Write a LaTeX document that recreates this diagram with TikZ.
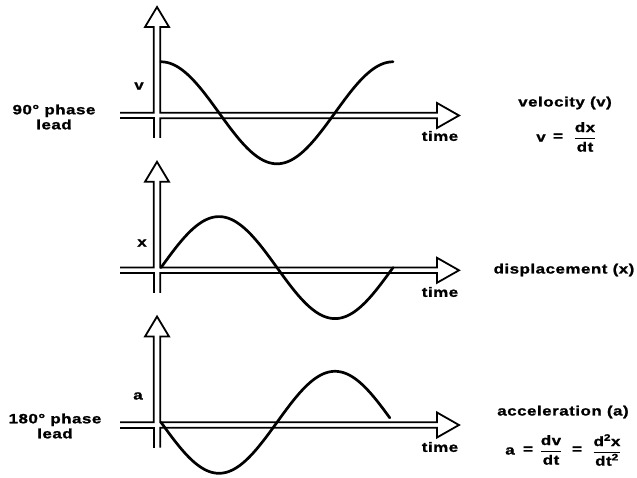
\documentclass[tikz,border=0pt]{standalone}
\usepackage{fontspec}
\setmainfont{Liberation Sans}[FakeStretch=1.25,LetterSpace=4,BoldFeatures={FakeBold=1.2}]
\begin{document}
\begin{tikzpicture}[x=1pt,y=-1pt,
  lbl/.style={font=\fontsize{13.5}{15}\selectfont\bfseries, inner sep=0pt, align=center},
  axisline/.style={line width=1.8pt, line join=miter, line cap=butt},
  wave/.style={line width=2.7pt, line cap=round}]
\useasboundingbox (0,0) rectangle (637,478);
% axes (hollow double-line arrows)
\foreach \c in {115.5,270.3,425}{
  \draw[axisline] (120,\c-2.7) -- (153.8,\c-2.7) -- (153.8,\c-88.5) -- (145,\c-88.5)
     -- (157,\c-108.5) -- (169,\c-88.5) -- (160.3,\c-88.5) -- (160.3,\c-2.7)
     -- (437,\c-2.7) -- (437,\c-12.5) -- (459,\c) -- (437,\c+12.5) -- (437,\c+2.7)
     -- (160.3,\c+2.7) -- (160.3,\c+22.5);
  \draw[axisline] (120,\c+2.7) -- (153.8,\c+2.7) -- (153.8,\c+22.5);
}
% waves
\draw[wave] plot[domain=0:360,samples=120] ({161+0.64444*\x},{112.8-51*cos(\x)});
\draw[wave] plot[domain=0:360,samples=120] ({161+0.64444*\x},{267.6-51*sin(\x)});
\draw[wave] plot[domain=0:355,samples=120] ({161+0.64444*\x},{422.3+51*sin(\x)});
% left labels
\node[lbl] (lead1) at (54,117) {90° phase\\lead};
\node[lbl] (lead3) at (55,426) {180° phase\\lead};
% axis labels
\node[lbl] (lv) at (139,86) {v};
\node[lbl] (lx) at (142,243) {x};
\node[lbl] (la) at (138,396) {a};
\node[lbl] (t1) at (440,136) {time};
\node[lbl] (t2) at (440,292) {time};
\node[lbl] (t3) at (440,447) {time};
% right labels
\node[lbl] (vel) at (565,103) {velocity (v)};
\node[lbl] (veqv) at (541,138) {v};
\node[lbl] (veqeq) at (558,137) {=};
\node[lbl] (veqfr) at (585,137) {$\displaystyle\frac{\mbox{dx}}{\mbox{dt}}$};
\node[lbl] (disp) at (564,270) {displacement (x)};
\node[lbl] (acc) at (563,412) {acceleration (a)};
\node[lbl] (aeqa) at (510,451) {a};
\node[lbl] (aeqeq1) at (528,450) {=};
\node[lbl] (aeqfr1) at (551,450) {$\displaystyle\frac{\mbox{dv}}{\mbox{dt}}$};
\node[lbl] (aeqeq2) at (577,450) {=};
\node[lbl] (aeqfr2) at (607,450) {$\displaystyle\frac{\mbox{d\textsuperscript{2}x}}{\mbox{dt\textsuperscript{2}}}$};
\end{tikzpicture}
\end{document}
